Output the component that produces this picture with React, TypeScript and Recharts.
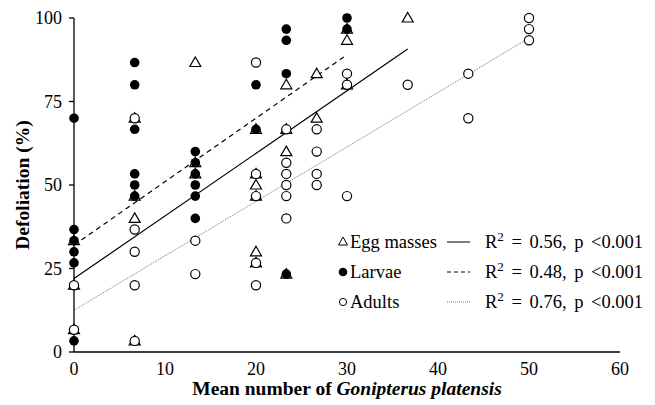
import { ScatterChart, Scatter, XAxis, YAxis, ReferenceLine } from 'recharts';

const FONT = 'Liberation Serif, serif';

// Egg masses (triangles)
const eggX = [0, 0, 0, 6.67, 6.67, 6.67, 6.67, 13.33, 13.33, 13.33, 20, 20, 20, 20, 20, 20, 23.33, 23.33, 23.33, 23.33, 26.67, 26.67, 30, 30, 30, 36.67];
const eggY = [33.33, 20, 6.67, 70, 46.67, 40, 3.33, 86.67, 56.67, 53.33, 66.67, 53.33, 50, 46.67, 30, 26.67, 80, 66.67, 60, 23.33, 83.33, 70, 96.67, 93.33, 80, 100];

// Larvae (filled circles)
const larvaeX = [0, 0, 0, 0, 0, 0, 6.67, 6.67, 6.67, 6.67, 6.67, 6.67, 13.33, 13.33, 13.33, 13.33, 13.33, 13.33, 20, 20, 23.33, 23.33, 23.33, 23.33, 30, 30];
const larvaeY = [70, 36.67, 33.33, 30, 26.67, 3.33, 86.67, 80, 66.67, 53.33, 50, 46.67, 60, 56.67, 53.33, 50, 46.67, 40, 80, 66.67, 96.67, 93.33, 83.33, 23.33, 100, 96.67];

// Adults (open circles)
const adultX = [0, 0, 6.67, 6.67, 6.67, 6.67, 6.67, 13.33, 13.33, 20, 20, 20, 20, 20, 23.33, 23.33, 23.33, 23.33, 23.33, 23.33, 26.67, 26.67, 26.67, 26.67, 30, 30, 30, 36.67, 43.33, 43.33, 50, 50, 50];
const adultY = [20, 6.67, 70, 36.67, 30, 20, 3.33, 33.33, 23.33, 86.67, 53.33, 46.67, 26.67, 20, 66.67, 56.67, 53.33, 50, 46.67, 40, 66.67, 60, 53.33, 50, 83.33, 80, 46.67, 80, 83.33, 70, 100, 96.67, 93.33];

// fitted line end points [x0, y0, x1, y1]
const eggFit = [0, 22, 36.67, 90.7];
const larvaeFit = [0, 32, 30, 89];
const adultFit = [0, 12.5, 50, 94];

const xTicks = [0, 10, 20, 30, 40, 50, 60];
const yTicks = [0, 25, 50, 75, 100];

const legendRows = [
  { name: 'Egg masses', r2: '0.56', dash: undefined as string | undefined, color: '#000' },
  { name: 'Larvae', r2: '0.48', dash: '4 3', color: '#000' },
  { name: 'Adults', r2: '0.76', dash: '1 1', color: '#777' },
];

const pts = (xs: number[], ys: number[]) => xs.map((x, i) => ({ x, y: ys[i] }));

const Triangle = (p: any) => {
  const { cx, cy } = p;
  return (
    <path
      d={`M${cx},${cy - 5.5} L${cx + 5.5},${cy + 4} L${cx - 5.5},${cy + 4} Z`}
      fill="#fff"
      stroke="#000"
      strokeWidth={1.2}
    />
  );
};
const Dot = (p: any) => <circle cx={p.cx} cy={p.cy} r={4.8} fill="#000" />;
const OpenDot = (p: any) => <circle cx={p.cx} cy={p.cy} r={4.6} fill="#fff" stroke="#000" strokeWidth={1.2} />;

const seg = (f: number[]) => [
  { x: f[0], y: f[1] },
  { x: f[2], y: f[3] },
];

const txt = { fontFamily: FONT, fontSize: 18.5, fill: '#000' };
const title = { fontFamily: FONT, fontSize: 19.5, fontWeight: 'bold' as const, fill: '#000' };
const tickStyle = { fill: '#000', fontSize: 18, fontFamily: FONT };

function LegendBox() {
  return (
    <svg width={655} height={405} style={{ position: 'absolute', left: 0, top: 0, pointerEvents: 'none' }}>
      {legendRows.map((r, i) => {
        const y = 242 + i * 30;
        return (
          <g key={r.name}>
            {i === 0 && <path d={`M343,${y - 5} L347.5,${y + 3} L338.5,${y + 3} Z`} fill="#fff" stroke="#000" strokeWidth={1} />}
            {i === 1 && <circle cx={343} cy={y} r={4.3} fill="#000" />}
            {i === 2 && <circle cx={343} cy={y} r={3.6} fill="#fff" stroke="#000" strokeWidth={1} />}
            <text x={350} y={y + 6} style={txt}>{r.name}</text>
            <line x1={447} x2={470} y1={y} y2={y} stroke={r.color} strokeWidth={1} strokeDasharray={r.dash} />
            <text x={485} y={y + 6} style={{ ...txt, wordSpacing: 3 }}>
              R<tspan dy={-7} style={{ fontSize: 13 }}>2</tspan>
              <tspan dy={7}> = {r.r2}, p &lt;0.001</tspan>
            </text>
          </g>
        );
      })}
    </svg>
  );
}

export default function App() {
  return (
    <div style={{ position: 'absolute', left: 0, top: 0, width: 655, height: 405, background: '#fff', fontFamily: FONT }}>
      <ScatterChart width={655} height={405} margin={{ top: 18, right: 35, bottom: 0, left: 0 }}>
        <XAxis
          type="number"
          dataKey="x"
          domain={[0, 60]}
          ticks={xTicks}
          tickLine={false}
          tickSize={6}
          tickMargin={4}
          height={53}
          axisLine={{ stroke: '#000', strokeWidth: 1.3 }}
          tick={tickStyle}
          label={{
            content: (props: any) => {
              const vb = props.viewBox;
              return (
                <text x={vb.x + vb.width / 2} y={395} textAnchor="middle" style={title}>
                  Mean number of <tspan style={{ fontStyle: 'italic' }}>Gonipterus platensis</tspan>
                </text>
              );
            },
          }}
        />
        <YAxis
          type="number"
          dataKey="y"
          domain={[0, 100]}
          ticks={yTicks}
          width={74}
          tickSize={5}
          tickMargin={7}
          axisLine={{ stroke: '#000', strokeWidth: 1.3 }}
          tickLine={{ stroke: '#000', strokeWidth: 1.3 }}
          tick={tickStyle}
          label={{
            content: (props: any) => {
              const vb = props.viewBox;
              const cy = vb.y + vb.height / 2;
              return (
                <text x={29} y={cy} transform={`rotate(-90 29 ${cy})`} textAnchor="middle" style={title}>
                  Defoliation (%)
                </text>
              );
            },
          }}
        />
        <ReferenceLine segment={seg(eggFit)} stroke="#000" strokeWidth={1.2} ifOverflow="visible" />
        <ReferenceLine segment={seg(larvaeFit)} stroke="#000" strokeWidth={1.2} strokeDasharray="5 4" ifOverflow="visible" />
        <ReferenceLine segment={seg(adultFit)} stroke="#777" strokeWidth={1} strokeDasharray="1 1" ifOverflow="visible" />
        <Scatter name="Egg masses" data={pts(eggX, eggY)} shape={Triangle} isAnimationActive={false} />
        <Scatter name="Larvae" data={pts(larvaeX, larvaeY)} shape={Dot} isAnimationActive={false} />
        <Scatter name="Adults" data={pts(adultX, adultY)} shape={OpenDot} isAnimationActive={false} />
      </ScatterChart>
      <LegendBox />
    </div>
  );
}
